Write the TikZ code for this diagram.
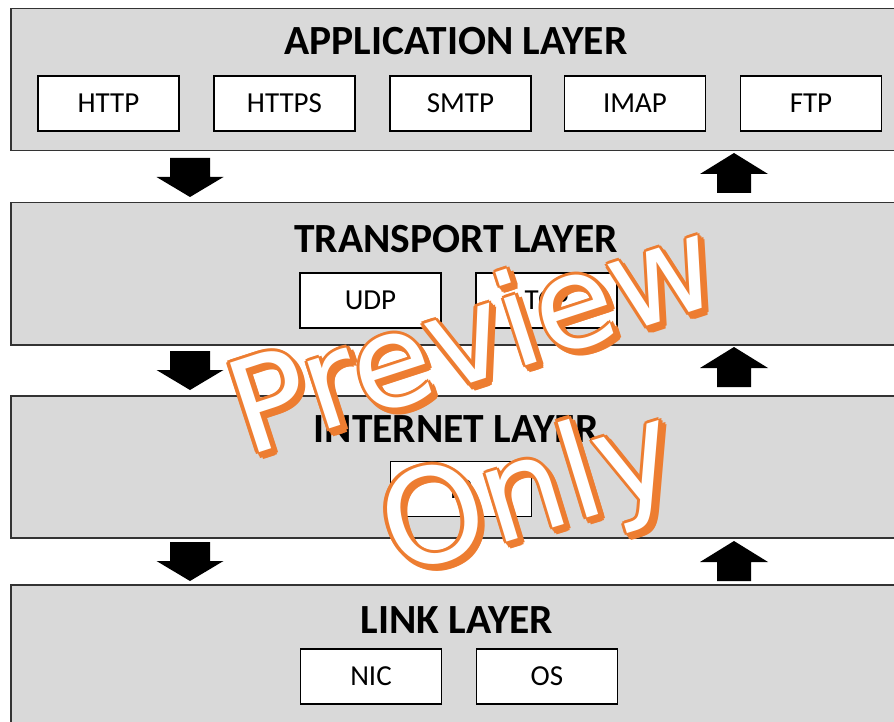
\documentclass[tikz,border=0pt]{standalone}
\usepackage{fontspec}
\setmainfont{Carlito}
\newfontfamily\wmfont{DejaVu Sans}
\usetikzlibrary{calc}
\definecolor{panelgray}{RGB}{217,217,217}
\definecolor{wmorange}{RGB}{237,125,49}
\begin{document}
\begin{tikzpicture}[x=1pt,y=-1pt,
  panel/.style={draw=black!80, line width=1.5pt, fill=panelgray, anchor=north west, inner sep=0pt, minimum width=900pt, minimum height=142pt},
  protobox/.style={draw=black, line width=1.5pt, fill=white, minimum width=141pt, minimum height=55pt, inner sep=0pt, font=\fontsize{29}{34}\selectfont},
  title/.style={anchor=base, inner sep=0pt, font=\fontsize{41.5}{48}\selectfont\bfseries},
  wm/.style 2 args={rotate=#2, inner sep=0pt, font=\wmfont\fontsize{#1}{150}\selectfont},
  downarr/.pic={\fill[black] (-20,0) -- (20,0) -- (20,19) -- (33.5,19) -- (0,39) -- (-33.5,19) -- (-20,19) -- cycle;},
  uparr/.pic={\fill[black] (0,0) -- (34,21) -- (17,21) -- (17,40) -- (-17,40) -- (-17,21) -- (-34,21) -- cycle;}]
\useasboundingbox (0,0) rectangle (894,722);
\fill[white] (0,0) rectangle (894,722);
\clip (0,0) rectangle (894,722);
% panels
\node[panel] (app) at (10,8) {};
\node[panel] (trans) at (10,202) {};
\node[panel] (inet) at (10,395) {};
\node[panel, minimum height=200pt] (link) at (10,584) {};
% titles
\node[title] (appt) at (456,55) {APPLICATION LAYER};
\node[title] (transt) at (456,252) {TRANSPORT LAYER};
\node[title] (inett) at (456,442) {INTERNET LAYER};
\node[title] (linkt) at (457,633) {LINK LAYER};
% protocol boxes
\node[protobox] (http) at (108.5,103.5) {HTTP};
\node[protobox] (https) at (284.5,103.5) {HTTPS};
\node[protobox] (smtp) at (460.5,103.5) {SMTP};
\node[protobox] (imap) at (635,103.5) {IMAP};
\node[protobox] (ftp) at (811,103.5) {FTP};
\node[protobox] (udp) at (370.5,300.5) {UDP};
\node[protobox] (tcp) at (546.5,300.5) {TCP};
\node[protobox] (ip) at (461,489) {IP};
\node[protobox] (nic) at (371,676.5) {NIC};
\node[protobox] (os) at (547,676.5) {OS};
% arrows
\pic at (190,158) {downarr};
\pic at (190,351) {downarr};
\pic at (190,542) {downarr};
\pic at (734,153) {uparr};
\pic at (734,347) {uparr};
\pic at (734,541) {uparr};
% watermark
\foreach \t/\cx/\cy/\fs/\rot in {Preview/471/333/129/18, Only/530/497/131/17}{
  \foreach \a in {0,45,...,315}{
    \node[wm={\fs}{\rot}, text=wmorange] at ($(\cx,\cy)+(4,4)+(\a:3.2)$) {\t};
  }
  \foreach \a in {0,45,...,315}{
    \node[wm={\fs}{\rot}, text=wmorange] at ($(\cx,\cy)+(\a:3.2)$) {\t};
  }
  \node[wm={\fs}{\rot}, text=white] (wm\t) at (\cx,\cy) {\t};
}
\end{tikzpicture}
\end{document}
